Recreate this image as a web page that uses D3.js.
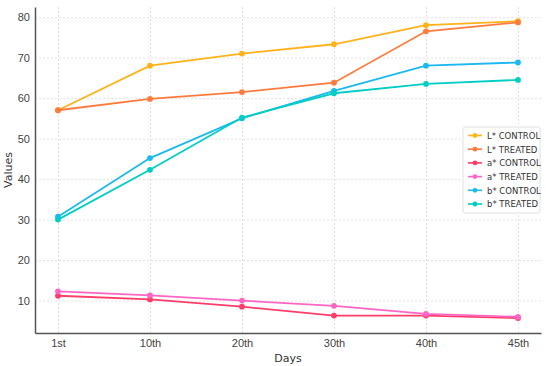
<!DOCTYPE html>
<html>
<head>
<meta charset="utf-8">
<script src="https://cdn.jsdelivr.net/npm/d3@7"></script>
<style>
  body { margin: 0; background: #fff; }
  svg { font-family: "DejaVu Sans", sans-serif; }
  .grid line { stroke: #e2e2e2; stroke-dasharray: 2,2; }
  .grid path { display: none; }
  .axis path { stroke: #555; stroke-width: 1.5; }
  .axis line { display: none; }
  .axis text { fill: #444; font-size: 11px; }
</style>
</head>
<body>
<div id="chart"></div>
<script>
const days = ['1st', '10th', '20th', '30th', '40th', '45th'];
const yTicks = [10, 20, 30, 40, 50, 60, 70, 80];

const lControl = [57, 68, 71, 73.3, 78, 79];
const lTreated = [57, 59.8, 61.5, 63.8, 76.5, 78.7];
const aControl = [11.2, 10.3, 8.5, 6.3, 6.3, 5.7];
const aTreated = [12.3, 11.3, 10, 8.7, 6.7, 6];
const bControl = [30.7, 45.2, 55, 61.8, 68, 68.8];
const bTreated = [30, 42.3, 55.2, 61.2, 63.5, 64.5];

const series = [
  { name: 'L* CONTROL', values: lControl, color: '#ffb21a' },
  { name: 'L* TREATED', values: lTreated, color: '#ff7a3d' },
  { name: 'a* CONTROL', values: aControl, color: '#ff3d6b' },
  { name: 'a* TREATED', values: aTreated, color: '#ff66c4' },
  { name: 'b* CONTROL', values: bControl, color: '#1cb9f0' },
  { name: 'b* TREATED', values: bTreated, color: '#00cdc4' },
];

const width = 550, height = 366;
const margin = { top: 7, right: 9, bottom: 33, left: 35 };
const w = width - margin.left - margin.right;
const h = height - margin.top - margin.bottom;

const svg = d3.select('#chart').append('svg')
  .attr('width', width).attr('height', height);
const g = svg.append('g').attr('transform', `translate(${margin.left},${margin.top})`);

const x = d3.scalePoint().domain(days).range([0, w]).padding(0.25);
const y = d3.scaleLinear().domain([2, 82.5]).range([h, 0]);

// grid
g.append('g').attr('class', 'grid')
  .call(d3.axisLeft(y).tickValues(yTicks).tickSize(-w).tickFormat(''));
g.append('g').attr('class', 'grid')
  .attr('transform', `translate(0,${h})`)
  .call(d3.axisBottom(x).tickSize(-h).tickFormat(''));

// axes
g.append('g').attr('class', 'axis')
  .call(d3.axisLeft(y).tickValues(yTicks).tickSize(0).tickPadding(5).tickSizeOuter(0));
g.append('g').attr('class', 'axis')
  .attr('transform', `translate(0,${h})`)
  .call(d3.axisBottom(x).tickSize(0).tickPadding(6).tickSizeOuter(0));

g.append('text').attr('x', x('20th') + (x('30th') - x('20th')) / 2).attr('y', h + 29)
  .attr('text-anchor', 'middle').attr('font-size', 11).attr('fill', '#333').text('Days');
g.append('text').attr('transform', `translate(${-23},${h / 2}) rotate(-90)`)
  .attr('text-anchor', 'middle').attr('font-size', 11).attr('fill', '#333').text('Values');

const line = d3.line().x((d, i) => x(days[i])).y(d => y(d));

series.forEach(s => {
  g.append('path').datum(s.values)
    .attr('fill', 'none').attr('stroke', s.color).attr('stroke-width', 1.8)
    .attr('d', line);
  g.selectAll(null).data(s.values).enter().append('circle')
    .attr('cx', (d, i) => x(days[i])).attr('cy', d => y(d))
    .attr('r', 2.9).attr('fill', s.color);
});

// legend
const lg = svg.append('g').attr('transform', 'translate(463,127)');
lg.append('rect').attr('width', 77).attr('height', 86)
  .attr('fill', '#fff').attr('fill-opacity', 0.9).attr('stroke', '#e0e0e0').attr('rx', 2);
series.forEach((s, i) => {
  const row = lg.append('g').attr('transform', `translate(0,${8.5 + i * 13.7})`);
  row.append('line').attr('x1', 5).attr('x2', 19).attr('stroke', s.color).attr('stroke-width', 1.6);
  row.append('circle').attr('cx', 12).attr('r', 2.4).attr('fill', s.color);
  row.append('text').attr('x', 24).attr('y', 3.3).attr('font-size', 8.5).attr('fill', '#333').text(s.name);
});
</script>
</body>
</html>
